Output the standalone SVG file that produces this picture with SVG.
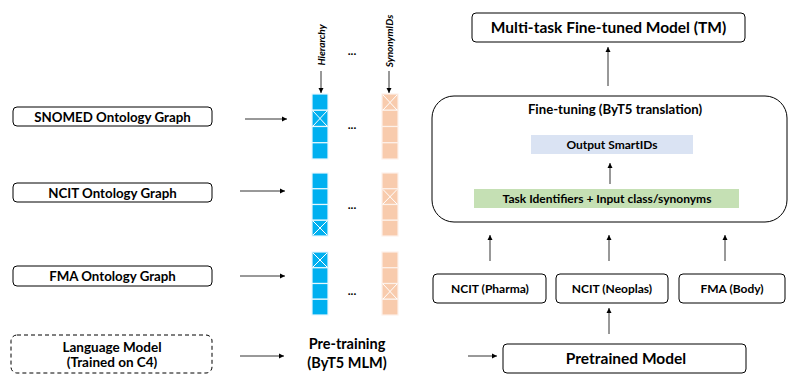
<svg xmlns="http://www.w3.org/2000/svg" width="788" height="374" viewBox="0 0 788 374">
<style>
.t{font-family:Lato,"Open Sans",sans-serif;font-weight:bold;fill:#000;text-anchor:middle}
.box{fill:#fff;stroke:#000;stroke-width:1}
.ln{stroke:#333;stroke-width:1;fill:none;marker-end:url(#ah)}
.blue{fill:#00b0f0;stroke:#e8f7fd;stroke-width:1.2}
.peach{fill:#f8cbad;stroke:#fdf1ea;stroke-width:1.2}
.x{stroke:#fff;stroke-width:1}
</style>
<defs>
<marker id="ah" markerWidth="6" markerHeight="6" refX="5" refY="3" orient="auto" markerUnits="userSpaceOnUse">
<path d="M0,0.5 L5,3 L0,5.5 Z" fill="#000"/>
</marker>
</defs>
<g id="snomed"><rect class="box" x="13" y="107" width="199" height="19" rx="4"/><text class="t" x="112.5" y="121.5" font-size="13.3">SNOMED Ontology Graph</text></g>
<g id="ncit"><rect class="box" x="13" y="183" width="199" height="19" rx="4"/><text class="t" x="112.5" y="197.5" font-size="13.3">NCIT Ontology Graph</text></g>
<g id="fma"><rect class="box" x="13" y="266" width="199" height="20" rx="4"/><text class="t" x="112.5" y="281" font-size="13.3">FMA Ontology Graph</text></g>
<g id="lm"><rect class="box" x="11" y="335" width="201" height="38" rx="6" stroke-dasharray="4,3"/><text class="t" x="112" y="352" font-size="13.5">Language Model</text><text class="t" x="112" y="367" font-size="13.5">(Trained on C4)</text></g>
<g id="pretraining"><text class="t" x="347" y="349" font-size="14.5">Pre-training</text><text class="t" x="347" y="368" font-size="14.5">(ByT5 MLM)</text></g>
<g id="pretrained"><rect class="box" x="503" y="344" width="243" height="29" rx="4"/><text class="t" x="626" y="364" font-size="15.5">Pretrained Model</text></g>
<g id="pharma"><rect class="box" x="433" y="274" width="113" height="29" rx="4"/><text class="t" x="490" y="293" font-size="12">NCIT (Pharma)</text></g>
<g id="neoplas"><rect class="box" x="556" y="274" width="112" height="29" rx="4"/><text class="t" x="612" y="293" font-size="12">NCIT (Neoplas)</text></g>
<g id="body"><rect class="box" x="679" y="274" width="106" height="29" rx="4"/><text class="t" x="732" y="293" font-size="12">FMA (Body)</text></g>
<g id="finetuning"><rect class="box" x="432" y="96" width="355" height="126" rx="22"/><text class="t" x="615" y="114" font-size="13.2">Fine-tuning (ByT5 translation)</text></g>
<g id="output"><rect x="531" y="135" width="162" height="19" fill="#dae3f3"/><text class="t" x="612" y="148.5" font-size="12">Output SmartIDs</text></g>
<g id="task"><rect x="474" y="189" width="265" height="19" fill="#c5e0b4"/><text class="t" x="607" y="203" font-size="12">Task Identifiers + Input class/synonyms</text></g>
<g id="tm"><rect class="box" x="472" y="13" width="273" height="29" rx="4"/><text class="t" x="608.5" y="33" font-size="15.5">Multi-task Fine-tuned Model (TM)</text></g>
<g id="labels">
<text class="t" font-size="10" font-style="italic" transform="translate(324.5,45) rotate(-90)">Hierarchy</text>
<text class="t" font-size="10" font-style="italic" transform="translate(392.5,41) rotate(-90)">SynonymIDs</text>
<text class="t" x="352" y="55" font-size="12">...</text>
<text class="t" x="352" y="129" font-size="12">...</text>
<text class="t" x="352" y="209" font-size="12">...</text>
<text class="t" x="352" y="295" font-size="12">...</text>
</g>
<g id="col1">
<rect class="blue" x="312" y="94" width="16" height="16.25"/><rect class="blue" x="312" y="110.25" width="16" height="16.25"/><rect class="blue" x="312" y="126.5" width="16" height="16.25"/><rect class="blue" x="312" y="142.75" width="16" height="16.25"/>
<path class="x" d="M313,111 L327,126 M327,111 L313,126"/>
<rect class="peach" x="382" y="94" width="16" height="16.25"/><rect class="peach" x="382" y="110.25" width="16" height="16.25"/><rect class="peach" x="382" y="126.5" width="16" height="16.25"/><rect class="peach" x="382" y="142.75" width="16" height="16.25"/>
<path class="x" d="M383,95 L397,110 M397,95 L383,110"/>
</g>
<g id="col2">
<rect class="blue" x="312" y="173" width="16" height="15.75"/><rect class="blue" x="312" y="188.75" width="16" height="15.75"/><rect class="blue" x="312" y="204.5" width="16" height="15.75"/><rect class="blue" x="312" y="220.25" width="16" height="15.75"/>
<path class="x" d="M313,221 L327,235 M327,221 L313,235"/>
<rect class="peach" x="382" y="173" width="16" height="15.75"/><rect class="peach" x="382" y="188.75" width="16" height="15.75"/><rect class="peach" x="382" y="204.5" width="16" height="15.75"/><rect class="peach" x="382" y="220.25" width="16" height="15.75"/>
<path class="x" d="M383,189.5 L397,204 M397,189.5 L383,204"/>
</g>
<g id="col3">
<rect class="blue" x="312" y="252" width="16" height="15.75"/><rect class="blue" x="312" y="267.75" width="16" height="15.75"/><rect class="blue" x="312" y="283.5" width="16" height="15.75"/><rect class="blue" x="312" y="299.25" width="16" height="15.75"/>
<path class="x" d="M313,253 L327,267 M327,253 L313,267"/>
<rect class="peach" x="382" y="252" width="16" height="15.75"/><rect class="peach" x="382" y="267.75" width="16" height="15.75"/><rect class="peach" x="382" y="283.5" width="16" height="15.75"/><rect class="peach" x="382" y="299.25" width="16" height="15.75"/>
<path class="x" d="M383,284 L397,299 M397,284 L383,299"/>
</g>
<g id="connectors">
<line class="ln" x1="245" y1="119" x2="287" y2="119"/>
<line class="ln" x1="240" y1="191" x2="285" y2="191"/>
<line class="ln" x1="240" y1="276" x2="285" y2="276"/>
<line class="ln" x1="240" y1="356" x2="284" y2="356"/>
<line class="ln" x1="468" y1="356" x2="497" y2="356"/>
<line class="ln" x1="321" y1="71" x2="321" y2="93"/>
<line class="ln" x1="389" y1="71" x2="389" y2="93"/>
<line class="ln" x1="609" y1="334" x2="609" y2="308"/>
<line class="ln" x1="490" y1="261" x2="490" y2="235"/>
<line class="ln" x1="609" y1="261" x2="609" y2="235"/>
<line class="ln" x1="725" y1="261" x2="725" y2="235"/>
<line class="ln" x1="610" y1="184" x2="610" y2="163"/>
<line class="ln" x1="608" y1="86" x2="608" y2="47"/>
</g>
</svg>
